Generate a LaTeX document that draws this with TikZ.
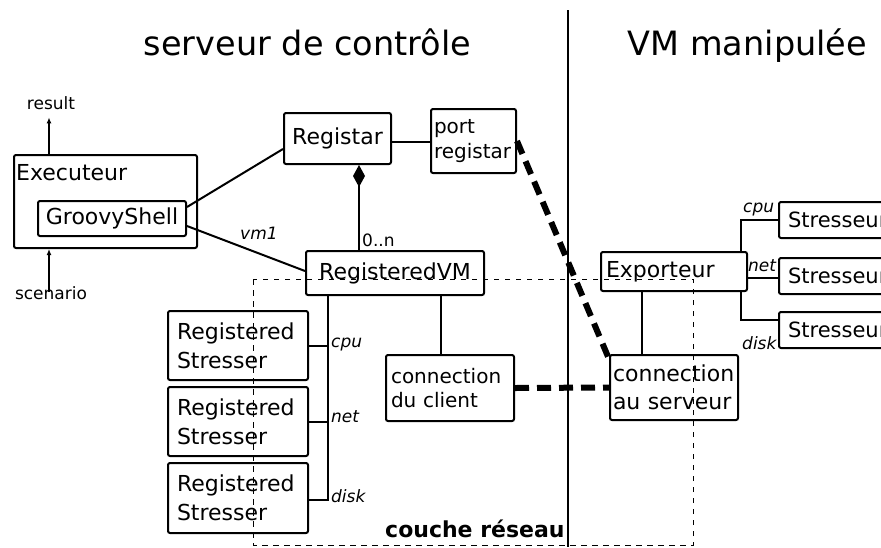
\documentclass[tikz,border=0pt]{standalone}
\usepackage{fontspec}
\setmainfont{DejaVu Sans}
\usetikzlibrary{arrows.meta}
\newcommand\mytitlefont{\fontsize{33.5}{40}\selectfont}
\newcommand\myboxfont{\fontsize{22}{29}\selectfont}
\newcommand\mymidfont{\fontsize{20}{24}\selectfont}
\newcommand\mysmallfont{\fontsize{17}{20}\selectfont}
\begin{document}
\begin{tikzpicture}[x=1pt,y=-1pt,
  box/.style={draw, line width=2pt, rounded corners=2pt, fill=white, inner sep=0pt, anchor=north west, font=\myboxfont},
  conn/.style={line width=2pt},
  thickdash/.style={line width=6pt, dash pattern=on 14pt off 8pt},
  thindash/.style={line width=1pt, dash pattern=on 5.5pt off 5.5pt},
  arr/.style={line width=1.3pt, -{Latex[length=6pt,width=5pt]}},
  lbl/.style={font=\mysmallfont\itshape, inner sep=0pt},
  plain/.style={font=\mysmallfont, inner sep=0pt}]
\useasboundingbox (0,0) rectangle (881,547);
\clip (0,0) rectangle (881,547);

% titles
\node[font=\mytitlefont, anchor=base] (t1) at (307.5,55) {serveur de contrôle};
\node[font=\mytitlefont, anchor=base] (t2) at (747.5,55) {VM manipulée};
\draw[line width=1.6pt] (568,10) -- (568,547);

% Executeur
\node[box, minimum width=183pt, minimum height=93pt] (exe) at (13,154) {};
\node[anchor=base west, font=\myboxfont, inner sep=0pt] (exet) at ([xshift=3pt,yshift=-26pt]exe.north west) {Executeur};
\node[box, minimum width=148pt, minimum height=35pt] (gs) at (37,200) {GroovyShell};
\node[plain, anchor=base] (res) at (51,109) {result};
\node[plain, anchor=base] (scen) at (51,299) {scenario};
\draw[arr] ([xshift=-56.5pt]exe.north) -- ([xshift=-56.5pt,yshift=-8pt]exe.north |- res.south);
\draw[arr] ([xshift=-56.5pt,yshift=-6pt]exe.south |- scen.north) -- ([xshift=-56.5pt]exe.south);

% Registar side
\node[box, minimum width=107pt, minimum height=51pt] (reg) at (283,112) {Registar};
\node[box, minimum width=85pt, minimum height=64pt, inner xsep=3pt, text width=79pt, align=left, font=\fontsize{20}{25}\selectfont] (port) at (430,108) {port\\registar};
\node[box, minimum width=178pt, minimum height=44pt] (rvm) at (305,250) {RegisteredVM};

\draw[conn] ([yshift=11.5pt]gs.east) -- ([yshift=-10.5pt]reg.west);
\draw[conn] ([yshift=-7.5pt]gs.east) -- ([yshift=2pt]rvm.west);
\node[lbl, anchor=base west] (vm1) at (240,239) {vm1};
\draw[conn] ([yshift=-3.5pt]reg.east) -- ([yshift=-3.5pt]reg.east -| port.west);
\draw[conn, -{Diamond[length=22pt,width=12pt]}] ([xshift=-36pt]rvm.north) -- ([xshift=21.5pt]reg.south);
\node[plain, anchor=base west] (card) at (362,246) {0..n};

% Registered stressers
\node[box, minimum width=140pt, minimum height=69pt, inner xsep=9pt, text width=122pt, align=left] (rs1) at (167,310) {Registered\\Stresser};
\node[box, minimum width=140pt, minimum height=69pt, inner xsep=9pt, text width=122pt, align=left] (rs2) at (167,386) {Registered\\Stresser};
\node[box, minimum width=140pt, minimum height=70pt, inner xsep=9pt, text width=122pt, align=left] (rs3) at (167,462) {Registered\\Stresser};
\coordinate (bus) at ([xshift=-67pt]rvm.south);
\draw[conn] (bus) |- ([yshift=-2pt]rs3.east);
\draw[conn] (rs1.east) -- (rs1.east -| bus);
\draw[conn] (rs2.east) -- (rs2.east -| bus);
\node[lbl, anchor=base west] (lc1) at (331,347) {cpu};
\node[lbl, anchor=base west] (ln1) at (331,422) {net};
\node[lbl, anchor=base west] (ld1) at (331,502) {disk};

% connections
\node[box, minimum width=128pt, minimum height=66pt, inner xsep=5pt, text width=118pt, align=left, font=\mymidfont] (cdc) at (385,354) {connection\\du client};
\draw[conn] ([xshift=-9pt]cdc.north) -- ([xshift=-9pt]cdc.north |- rvm.south);
\node[box, minimum width=128pt, minimum height=65pt, inner xsep=3pt, text width=122pt, align=left, font=\fontsize{22}{28}\selectfont] (cas) at (609,354) {connection\\au serveur};

% Stresseurs
\node[box, minimum width=120pt, minimum height=36pt, inner xsep=9pt, text width=102pt, align=left, font=\fontsize{21}{25}\selectfont] (st1) at (778,201) {Stresseur};
\node[box, minimum width=120pt, minimum height=36pt, inner xsep=9pt, text width=102pt, align=left, font=\fontsize{21}{25}\selectfont] (st2) at (778,257) {Stresseur};
\node[box, minimum width=120pt, minimum height=36pt, inner xsep=9pt, text width=102pt, align=left, font=\fontsize{21}{25}\selectfont] (st3) at (778,311) {Stresseur};
\coordinate (ebus) at ([xshift=-37pt]st1.west);
\coordinate (d3) at ([yshift=10pt]st3.west);
\draw[conn] (st1.west) -| (ebus |- d3) -- (d3);
\node[box, minimum width=146pt, minimum height=39pt, inner xsep=5pt, text width=136pt, align=left] (exp) at (600,251) {Exporteur};
\draw[conn] ([yshift=-2pt]exp.east |- st2.west) -- ([yshift=-2pt]st2.west);
\draw[conn] ([xshift=-32pt]cas.north) -- ([xshift=-32pt]cas.north |- exp.south);
\node[lbl, anchor=base west] (lc2) at (743,212) {cpu};
\node[lbl, anchor=base west] (ln2) at (748,271) {net};
\node[lbl, anchor=base west] (ld2) at (742,349) {disk};

% network links
\draw[thickdash] (port.east) -- ([yshift=-5pt]cas.north west);
\draw[thickdash] (cdc.east) -- (cas.west);

% network layer
\draw[thindash] (253,279) rectangle (693,545);
\node[font=\bfseries\myboxfont, anchor=base west, inner sep=0pt] (cr) at (385,537) {couche réseau};
\end{tikzpicture}
\end{document}
